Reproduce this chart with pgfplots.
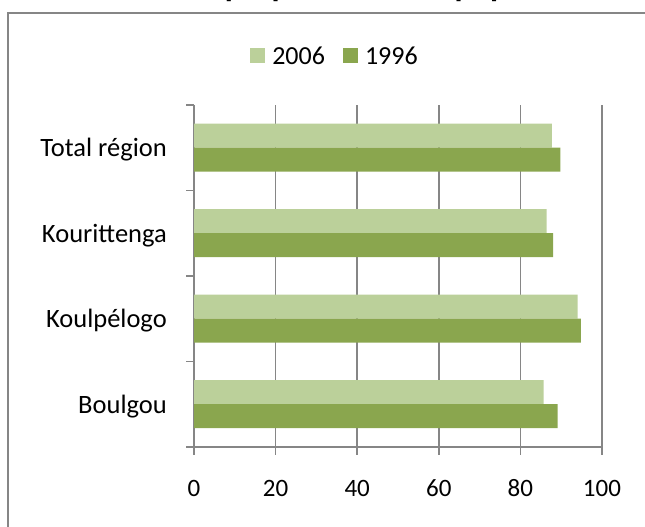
\documentclass[border=0pt]{standalone}
\usepackage{fontspec}
\setmainfont{Carlito}
\usepackage{pgfplots}
\pgfplotsset{compat=1.18}
\definecolor{lightbar}{RGB}{187,208,154}
\definecolor{darkbar}{RGB}{138,166,78}
\definecolor{gridgray}{RGB}{134,134,134}

\begin{document}
\begin{tikzpicture}[x=1pt,y=1pt]
\useasboundingbox (0,0) rectangle (645,527);
\draw[gridgray, line width=2pt] (8,-10) -- (8,514) -- (660,514);
\node[anchor=base, inner sep=0pt, font=\fontsize{33}{40}\selectfont\bfseries] at (380,530) {Évolution de la proportion de la population rurale (\%)};
\begin{axis}[
  at={(194pt,80pt)}, anchor=south west,
  scale only axis, width=408pt, height=342pt,
  xbar, bar width=24pt,
  xmin=0, xmax=100, ymin=-0.5, ymax=3.5,
  axis lines*=left,
  axis line style={gridgray, line width=1.5pt},
  tick align=outside,
  major tick length=8pt,
  tick style={gridgray, line width=1.5pt},
  xtick={0,20,40,60,80,100},
  xmajorgrids,
  major grid style={gridgray, line width=1.5pt},
  ytick={-0.5,0.5,1.5,2.5,3.5},
  yticklabels={,,,,},
  extra y ticks={0,1,2,3},
  extra y tick labels={Boulgou,Koulpélogo,Kourittenga,Total région},
  extra y tick style={major tick length=0pt, ymajorgrids=false},
  /pgf/number format/assume math mode=true,
  tick label style={font=\fontsize{25}{30}\selectfont},
  xticklabel style={anchor=base, yshift=-42pt},
  yticklabel style={anchor=east, inner sep=0pt, xshift=-27pt, yshift=-2pt, font=\fontsize{26.5}{30}\selectfont},
  legend columns=2,
  legend style={draw=none, fill=none, at={(0.3456,1.143)}, anchor=center,
    font=\fontsize{26}{30}\selectfont, inner sep=0pt,
    /tikz/every odd column/.append style={column sep=5pt},
    /tikz/every even column/.append style={column sep=16pt}},
  legend image code/.code={\fill[#1] (0pt,-7pt) rectangle (15pt,8pt);},
]
\addplot[fill=lightbar, draw=none, bar shift=12pt] coordinates {(85.7,0) (94.0,1) (86.4,2) (87.7,3)};
\addlegendentry{2006}
\addplot[fill=darkbar, draw=none, bar shift=-12pt] coordinates {(89.1,0) (94.8,1) (88.0,2) (89.8,3)};
\addlegendentry{1996}
\end{axis}
\end{tikzpicture}
\end{document}
